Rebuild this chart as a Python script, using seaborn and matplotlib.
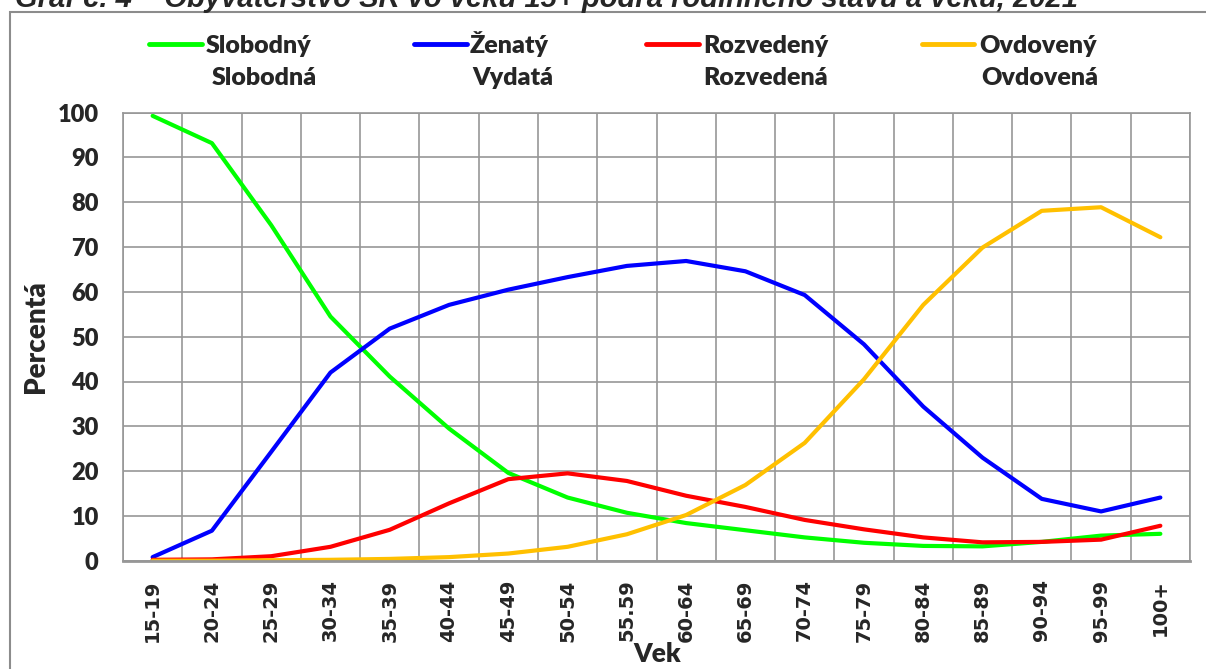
import numpy as np
import pandas as pd
import matplotlib
matplotlib.use("Agg")
import matplotlib.pyplot as plt
from matplotlib.lines import Line2D
from matplotlib.patches import Rectangle
import seaborn as sns

# vekové skupiny a podiely (%)
vek = ["15-19", "20-24", "25-29", "30-34", "35-39", "40-44", "45-49", "50-54", "55.59",
       "60-64", "65-69", "70-74", "75-79", "80-84", "85-89", "90-94", "95-99", "100+"]
slobodny = [99.3, 93.2, 74.9, 54.5, 41.1, 29.5, 19.6, 14.1, 10.7, 8.4, 6.8, 5.2, 4.0, 3.3, 3.2, 4.2, 5.6, 6.0]
zenaty = [0.8, 6.7, 24.3, 42.0, 51.8, 57.1, 60.5, 63.3, 65.8, 66.9, 64.6, 59.3, 48.3, 34.4, 23.0, 13.8, 11.0, 14.1]
rozvedeny = [0.2, 0.3, 1.0, 3.1, 6.9, 12.8, 18.2, 19.5, 17.8, 14.5, 12.0, 9.1, 7.0, 5.2, 4.1, 4.2, 4.7, 7.8]
ovdoveny = [0.0, 0.0, 0.1, 0.2, 0.4, 0.8, 1.6, 3.1, 5.9, 10.2, 16.9, 26.3, 40.5, 57.1, 69.9, 78.1, 78.9, 72.2]

stavy = ["Slobodný", "Ženatý", "Rozvedený", "Ovdovený"]
stavy_z = ["Slobodná", "Vydatá", "Rozvedená", "Ovdovená"]
farby = ["#00FF00", "#0000FF", "#FF0000", "#FFC000"]

df = pd.DataFrame({
    "Vek": vek * 4,
    "Percentá": slobodny + zenaty + rozvedeny + ovdoveny,
    "Stav": [s for s in stavy for _ in vek],
})

sns.set_style("white")
plt.rcParams["font.family"] = ["Lato", "DejaVu Sans"]
hrube = "heavy"

W, H = 1206, 669
fig = plt.figure(figsize=(W / 100, H / 100), dpi=100)
ax = fig.add_axes([123 / W, 1 - 560.7 / H, (1190 - 123) / W, (560.7 - 112.7) / H])

sns.lineplot(data=df, x="Vek", y="Percentá", hue="Stav", hue_order=stavy,
             palette=dict(zip(stavy, farby)), linewidth=3, sort=False,
             legend=False, ax=ax, solid_capstyle="round")

sivá = "#979797"
ax.set_xlim(-0.5, len(vek) - 0.5)
ax.set_ylim(0, 100)
ax.set_yticks(range(0, 101, 10))
ax.set_yticklabels([str(v) for v in range(0, 101, 10)], fontsize=17, fontweight=hrube)
ax.set_xticks(np.arange(len(vek) + 1) - 0.5)
ax.set_xticklabels([])
ax.set_xticks(np.arange(len(vek)), minor=True)
ax.set_xticklabels(vek, minor=True, rotation=90, fontsize=14, fontweight="bold",
                   family="DejaVu Sans")
ax.tick_params(axis="x", which="major", length=8, width=1.2, color=sivá)
ax.tick_params(axis="x", which="minor", length=0, pad=13.5)
ax.tick_params(axis="y", length=6, width=1.2, color=sivá, pad=11.5)
ax.grid(True, which="major", color=sivá, linewidth=1.2)
for s in ax.spines.values():
    s.set_color(sivá)
    s.set_linewidth(1.2)
ax.spines["bottom"].set_linewidth(2)
ax.set_xlabel("")
ax.set_ylabel("")

fig.text(36 / W, 1 - 337 / H, "Percentá", rotation=90, ha="center", va="center",
         fontsize=20, fontweight=hrube)
fig.text(657 / W, 1 - 654 / H, "Vek", ha="center", va="center",
         fontsize=19, fontweight=hrube)

# legenda
leg_x = [(149, 202, 206, 212), (414, 467, 470, 472), (646, 699, 703, 703), (922, 974, 979, 981)]
for (x0, x1, xt, xt2), s1, s2, c in zip(leg_x, stavy, stavy_z, farby):
    fig.add_artist(Line2D([x0 / W, x1 / W], [1 - 44 / H] * 2, color=c, linewidth=3.5,
                          solid_capstyle="round", transform=fig.transFigure))
    fig.text(xt / W, 1 - 53 / H, s1, fontsize=18, fontweight=hrube, va="baseline")
    fig.text(xt2 / W, 1 - 85 / H, s2, fontsize=18, fontweight=hrube, va="baseline")

# orámovanie a orezaný nadpis (v predlohe je nadpis odrezaný hornou hranou)
fig.add_artist(Rectangle((10 / W, -0.1), 1.2, 1.1 - 12 / H, fill=False,
                         edgecolor="#8c8c8c", linewidth=1.5, transform=fig.transFigure))
fig.text(15 / W, 1 - 7 / H,
         "Graf č. 4 – Obyvateľstvo SR vo veku 15+ podľa rodinného stavu a veku, 2021",
         fontsize=21, fontweight="bold", style="italic", family="Liberation Sans",
         va="baseline")

fig.savefig("out.png", dpi=100)
